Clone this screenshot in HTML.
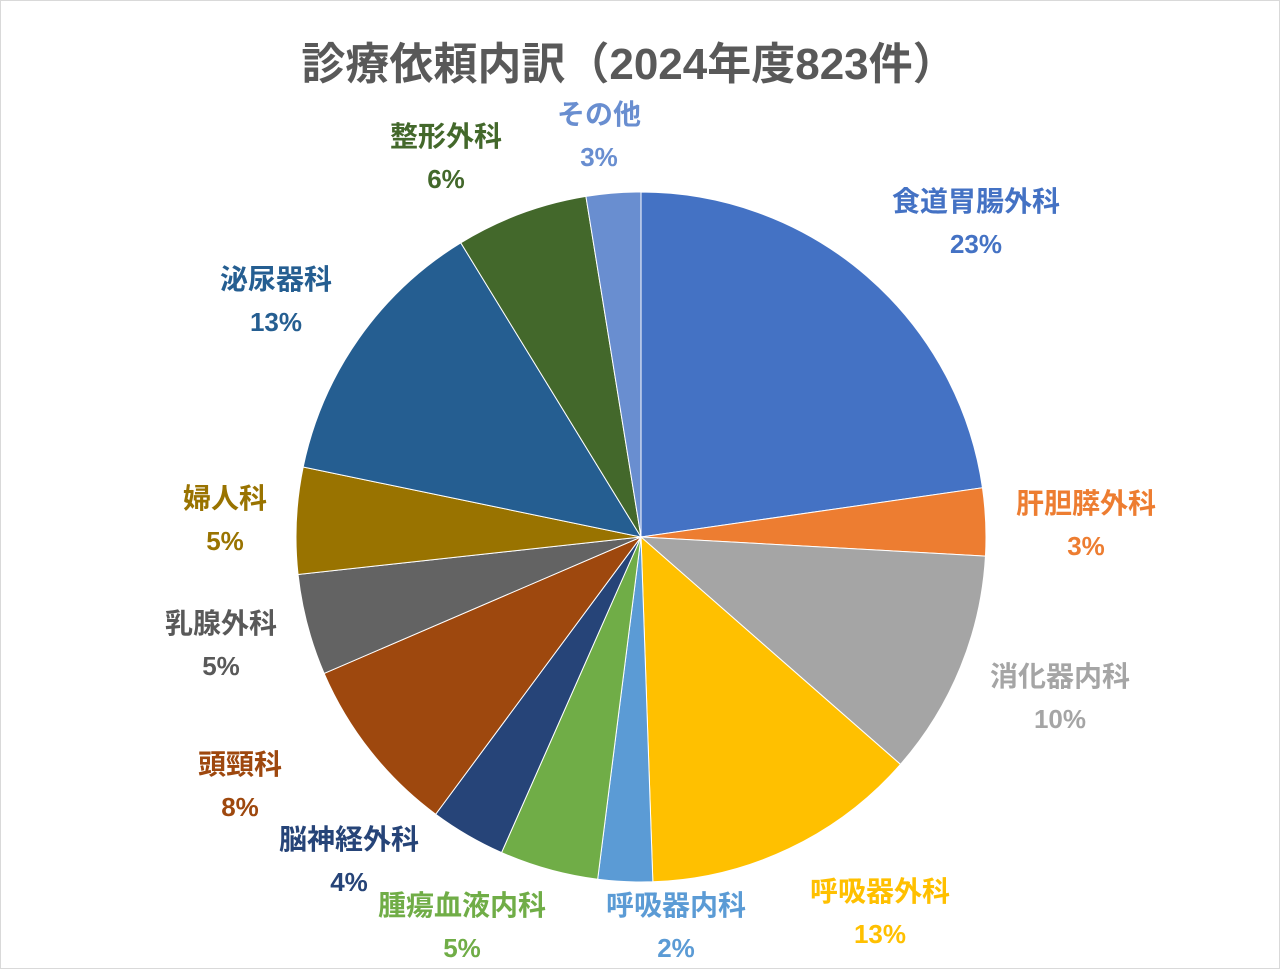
<!DOCTYPE html>
<html><head><meta charset="utf-8">
<style>
html,body{margin:0;padding:0;background:#fff;}
#wrap{position:relative;width:1278px;height:967px;border:1px solid #d9d9d9;}
svg{position:absolute;left:0;top:0;}
text{font-family:"Liberation Sans","Noto Sans CJK JP",sans-serif;}
</style></head>
<body>
<div id="wrap">
<svg id="chart" width="1280" height="969">
<text x="628" y="78" text-anchor="middle" font-size="44" font-weight="bold" fill="#595959">診療依頼内訳（2024年度823件）</text>
</svg>
</div>
<script>
const categories = ["食道胃腸外科","肝胆膵外科","消化器内科","呼吸器外科","呼吸器内科","腫瘍血液内科","脳神経外科","頭頸科","乳腺外科","婦人科","泌尿器科","整形外科","その他"];
const values = [187,26,87,107,21,38,29,69,39,41,107,51,21];
const pctLabels = ["23%","3%","10%","13%","2%","5%","4%","8%","5%","5%","13%","6%","3%"];
const colors = ["#4472C4","#ED7D31","#A5A5A5","#FFC000","#5B9BD5","#70AD47","#264478","#9E480E","#636363","#997300","#255E91","#43682B","#698ED0"];
const labelColors = ["#4472C4","#ED7D31","#A5A5A5","#FFC000","#5B9BD5","#70AD47","#264478","#9E480E","#595959","#997300","#255E91","#43682B","#698ED0"];
// layout only: manual label anchor points (Excel best-fit placement)
const labelAnchorX = [975,1085,1059,879,675,461,348,239,220,224,275,445,598];
const labelAnchorY = [200,502,675,890,904,904,838,763,622,497,278,135,113];

const svg = document.getElementById('chart');
const NS = "http://www.w3.org/2000/svg";
const cx = 640, cy = 536, r = 345;
const total = values.reduce((a,b)=>a+b,0);
function pt(angDeg, rad){ const a = angDeg*Math.PI/180; return [cx + rad*Math.sin(a), cy - rad*Math.cos(a)]; }
let start = 0;
values.forEach((v,i)=>{
  const sweep = v/total*360;
  const end = start + sweep;
  const [x1,y1] = pt(start,r), [x2,y2] = pt(end,r);
  const p = document.createElementNS(NS,'path');
  p.setAttribute('d',`M${cx},${cy} L${x1},${y1} A${r},${r} 0 ${sweep>180?1:0} 1 ${x2},${y2} Z`);
  p.setAttribute('fill',colors[i]);
  p.setAttribute('stroke','#fff');
  p.setAttribute('stroke-width','1');
  
  
  svg.appendChild(p);
  const lx = labelAnchorX[i], ly = labelAnchorY[i];
  const g = document.createElementNS(NS,'text');
  g.setAttribute('x',lx); g.setAttribute('text-anchor','middle');
  g.setAttribute('font-weight','bold');
  g.setAttribute('fill',labelColors[i]);
  
  
  const t1 = document.createElementNS(NS,'tspan');
  t1.setAttribute('x',lx); t1.setAttribute('y',ly+10); t1.setAttribute('font-size','28'); t1.textContent = categories[i];
  const t2 = document.createElementNS(NS,'tspan');
  t2.setAttribute('x',lx); t2.setAttribute('y',ly+52); t2.setAttribute('font-size','26'); t2.textContent = pctLabels[i];
  g.appendChild(t1); g.appendChild(t2);
  svg.appendChild(g);
  start = end;
});
</script>
</body></html>
